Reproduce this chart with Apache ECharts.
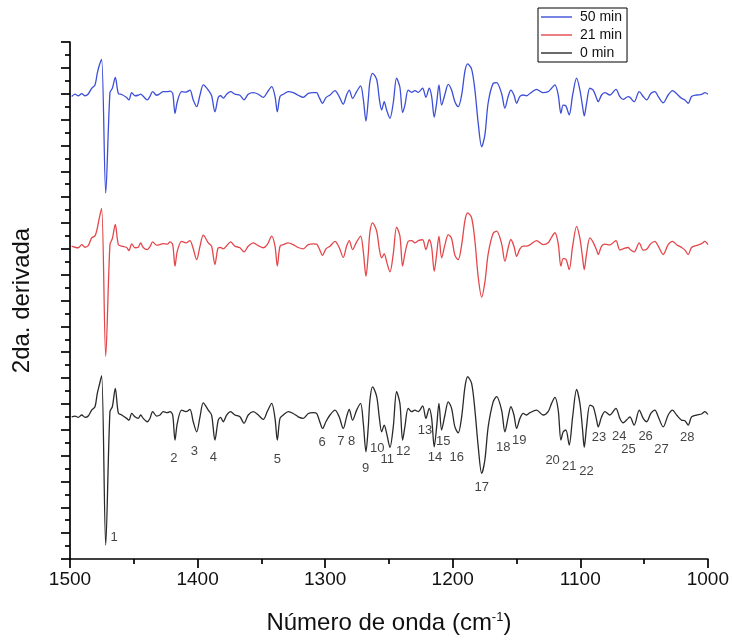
<!DOCTYPE html>
<html>
<head>
<meta charset="utf-8">
<script src="https://cdn.jsdelivr.net/npm/echarts@6/dist/echarts.min.js"></script>
<style>html,body{margin:0;padding:0;background:#fff;}#c{width:732px;height:641px;}</style>
</head>
<body>
<div id="c"></div>
<script>
// Wavenumbers (cm-1) shared by the three spectra
const wavenumbers = [1498.7,1496.1,1493.5,1490.8,1488.2,1485.7,1483.0,1480.4,1478.6,1477.0,1475.2,1472.0,1468.7,1466.8,1464.5,1462.1,1459.5,1455.6,1453.8,1451.6,1449.1,1446.5,1444.6,1442.6,1439.4,1437.3,1435.2,1432.1,1429.5,1426.9,1423.7,1421.6,1419.5,1417.7,1415.9,1412.5,1409.1,1406.0,1403.4,1400.7,1398.1,1395.5,1391.6,1389.0,1386.4,1383.8,1381.9,1379.9,1377.2,1374.1,1370.7,1366.8,1363.6,1360.3,1356.3,1352.4,1348.5,1345.4,1341.9,1339.3,1337.5,1335.4,1332.8,1328.9,1325.0,1321.1,1317.2,1313.2,1309.3,1306.7,1304.6,1302.0,1299.4,1296.2,1292.3,1289.0,1285.8,1283.2,1281.1,1278.5,1275.3,1272.2,1270.1,1268.0,1266.2,1264.9,1262.8,1259.6,1257.6,1255.7,1253.7,1251.8,1249.2,1246.6,1244.0,1241.4,1239.3,1237.5,1234.9,1232.2,1229.6,1227.0,1223.6,1221.0,1218.4,1216.5,1214.5,1212.6,1210.8,1208.7,1206.1,1203.5,1200.9,1198.3,1195.7,1193.0,1190.4,1188.3,1185.2,1182.6,1180.0,1177.3,1174.8,1172.2,1168.3,1165.6,1161.7,1159.1,1156.5,1154.4,1152.0,1149.9,1147.3,1144.7,1142.1,1139.5,1134.3,1129.1,1125.2,1122.5,1119.9,1117.3,1115.2,1113.4,1111.3,1108.7,1106.0,1102.9,1100.3,1098.2,1096.9,1095.1,1092.5,1089.9,1087.2,1086.0,1083.3,1080.7,1076.8,1072.1,1069.0,1066.4,1062.5,1061.1,1057.8,1053.8,1050.7,1048.0,1044.7,1041.5,1038.9,1035.0,1031.1,1027.7,1024.5,1020.6,1018.0,1015.4,1012.8,1008.9,1004.9,1002.3,1000.0];

// Second-derivative values (arbitrary units), 0 min
const d0min = [0.01,0.04,-0.01,0.08,-0.01,0.04,0.27,0.40,0.92,1.24,1.60,-4.95,0.21,0.40,1.11,0.15,0.08,-0.05,-0.12,0.14,0.01,-0.05,0.08,-0.05,-0.18,-0.05,0.21,0.04,0.08,0.21,0.17,0.21,0.08,-0.89,-0.24,0.27,0.21,0.30,-0.18,-0.57,0.01,0.55,0.27,0.08,-0.89,-0.12,-0.01,-0.18,0.08,0.21,0.08,0.01,-0.24,0.08,0.21,0.08,-0.09,0.21,0.53,-0.05,-0.89,-0.05,0.08,0.21,0.14,0.01,-0.05,0.14,0.17,0.14,-0.12,-0.44,-0.18,0.08,0.27,0.01,-0.44,0.01,0.30,-0.12,0.27,0.53,-0.24,-1.34,-0.38,0.66,1.17,0.79,0.01,-0.57,-0.31,-0.63,-1.17,-0.38,0.98,0.53,-0.89,-0.38,0.34,0.21,0.27,0.21,0.43,-0.05,0.34,-0.05,-1.15,-0.38,0.53,-0.50,0.08,0.59,0.34,-0.38,-0.61,0.01,1.17,1.56,1.30,0.27,-1.15,-2.18,-1.66,-0.38,0.59,0.79,0.27,-0.57,0.01,0.40,0.08,-0.44,-0.05,0.14,0.08,0.17,0.27,0.08,0.21,0.53,0.76,0.27,-0.89,-0.57,-0.50,-1.08,0.01,1.07,0.53,-0.50,-1.17,-0.38,0.46,0.40,-0.12,-0.38,0.01,0.21,0.08,0.34,-0.05,-0.22,-0.05,0.01,-0.31,0.27,-0.05,-0.18,0.14,0.27,0.01,-0.38,0.08,0.27,0.08,-0.12,-0.14,-0.31,0.01,0.08,0.12,0.21,0.10];
// 21 min
const d21min = [0.00,-0.04,-0.06,0.06,-0.04,0.02,0.32,0.40,0.70,1.10,1.46,-4.26,0.06,0.30,0.84,0.06,0.00,-0.05,-0.17,0.09,-0.06,-0.04,0.13,-0.05,-0.13,-0.02,0.17,0.04,0.06,0.10,0.08,0.17,0.06,-0.77,-0.19,0.19,0.13,0.22,-0.10,-0.52,0.00,0.43,0.13,0.00,-0.71,-0.06,-0.05,-0.10,0.02,0.17,0.00,-0.06,-0.22,0.00,0.13,0.02,-0.06,0.06,0.39,0.00,-0.77,0.00,0.06,0.13,0.06,-0.05,-0.10,0.06,0.09,0.08,-0.10,-0.35,-0.10,0.00,0.19,-0.05,-0.43,0.00,0.22,-0.13,0.17,0.39,-0.20,-1.16,-0.30,0.55,0.90,0.58,-0.08,-0.45,-0.30,-0.60,-0.99,-0.30,0.74,0.40,-0.77,-0.30,0.19,0.22,0.13,0.22,0.25,-0.13,0.25,-0.05,-0.97,-0.30,0.39,-0.45,0.05,0.45,0.30,-0.35,-0.52,0.05,1.00,1.29,1.10,0.20,-1.20,-1.97,-1.40,-0.30,0.50,0.58,0.10,-0.58,-0.05,0.26,0.00,-0.39,-0.10,0.00,0.00,0.05,0.22,0.06,0.13,0.35,0.52,0.10,-0.77,-0.48,-0.50,-0.90,0.00,0.77,0.30,-0.45,-0.90,-0.30,0.32,0.15,-0.15,-0.32,0.00,0.08,0.05,0.22,-0.15,-0.10,-0.05,-0.12,-0.22,0.13,-0.15,-0.12,0.10,0.19,0.00,-0.32,0.06,0.19,0.06,-0.05,-0.15,-0.32,-0.05,0.03,0.10,0.19,0.06];
// 50 min
const d50min = [-0.06,0.03,-0.03,0.05,-0.03,0.04,0.26,0.39,0.85,1.15,1.38,-3.80,0.09,0.26,0.68,0.06,0.02,-0.10,-0.19,0.09,-0.03,-0.01,0.03,-0.05,-0.19,-0.05,0.13,-0.01,0.05,0.13,0.13,0.15,0.06,-0.71,-0.26,0.13,0.11,0.19,-0.19,-0.45,0.00,0.39,0.19,-0.03,-0.65,-0.10,-0.03,-0.12,0.03,0.13,0.03,-0.01,-0.19,0.03,0.09,0.03,-0.09,0.10,0.32,-0.05,-0.65,-0.06,0.03,0.13,0.09,-0.01,-0.09,0.06,0.09,0.09,-0.10,-0.32,-0.10,0.00,0.17,-0.06,-0.35,0.00,0.19,-0.13,0.13,0.35,-0.16,-1.01,-0.19,0.52,0.84,0.60,-0.13,-0.58,-0.26,-0.58,-0.90,-0.30,0.65,0.30,-0.68,-0.40,0.19,0.10,0.17,0.10,0.26,-0.09,0.26,-0.06,-0.86,-0.30,0.39,-0.39,0.03,0.41,0.19,-0.26,-0.45,0.00,0.93,1.20,1.00,0.19,-1.10,-2.00,-1.55,-0.30,0.45,0.48,0.06,-0.51,-0.05,0.19,0.00,-0.32,-0.05,0.00,-0.03,0.06,0.22,0.09,0.13,0.26,0.39,0.00,-0.71,-0.39,-0.42,-0.77,0.00,0.65,0.19,-0.45,-0.81,-0.32,0.26,0.19,-0.13,-0.26,0.00,0.09,0.00,0.22,-0.06,-0.17,-0.06,-0.09,-0.26,0.13,-0.06,-0.19,0.06,0.13,-0.06,-0.30,0.00,0.17,0.05,-0.13,-0.19,-0.32,-0.06,0.00,0.02,0.09,0.03];

// Vertical offsets used to stack the spectra
const offset0 = 5.49, offset21 = 12.1, offset50 = 17.95;

// Band numbers (annotations) and their positions
const bandLabels = ['1','2','3','4','5','6','7','8','9','10','11','12','13','14','15','16','17','18','19','20','21','22','23','24','25','26','27','28'];
const bandWn = [1465.5,1418.5,1402.6,1387.7,1337.5,1302.3,1287.6,1279.2,1268.3,1259.2,1251.3,1238.8,1221.8,1213.9,1207.4,1196.9,1177.3,1160.4,1147.9,1121.7,1108.7,1095.1,1085.4,1069.5,1062.2,1048.8,1036.3,1016.1];
const bandY = [0.82,3.90,4.15,3.93,3.86,4.51,4.54,4.54,3.51,4.27,3.86,4.18,4.99,3.92,4.54,3.93,2.76,4.32,4.60,3.80,3.60,3.40,4.71,4.76,4.22,4.73,4.24,4.71];

const xTicks = [1500,1400,1300,1200,1100,1000];

function pts(vals, off){ return wavenumbers.map((w,i)=>[w, vals[i]+off]); }

const chart = echarts.init(document.getElementById('c'));
const font = 'Liberation Sans, Arial, sans-serif';
const lineCommon = {type:'line', symbol:'none', smooth:0.3, animation:false};
chart.setOption({
  animation:false,
  backgroundColor:'#fff',
  grid:{left:70,right:24,top:42,bottom:82,containLabel:false},
  legend:{
    orient:'vertical', left:538, top:8,
    data:['50 min','21 min','0 min'],
    icon:'rect', itemWidth:31, itemHeight:1.4, itemGap:4,
    borderColor:'#000', borderWidth:1, padding:[2,5,2,3],
    textStyle:{fontFamily:font,fontSize:14,color:'#111',padding:[0,0,0,3]}
  },
  xAxis:{
    type:'value', inverse:true, min:1000, max:1500, interval:100,
    name:'Número de onda (cm{s|-1})', nameLocation:'middle', nameGap:52,
    nameTextStyle:{fontFamily:font,fontSize:24,color:'#111',rich:{s:{fontFamily:font,fontSize:13,color:'#111',padding:[0,0,12,0]}}},
    axisLine:{show:true,onZero:false,lineStyle:{color:'#000',width:1.7}},
    axisTick:{show:true,inside:false,length:9,lineStyle:{color:'#000',width:1.7}},
    minorTick:{show:true,splitNumber:2,length:5,lineStyle:{color:'#000',width:1.7}},
    axisLabel:{fontFamily:font,fontSize:19,color:'#111',margin:11,
      formatter:v=>xTicks.includes(v)?String(v):''},
    splitLine:{show:false}
  },
  yAxis:{
    type:'value', min:0, max:20, interval:1,
    name:'2da. derivada', nameLocation:'middle', nameGap:36, nameRotate:90,
    nameTextStyle:{fontFamily:font,fontSize:24,color:'#111'},
    axisLine:{show:true,onZero:false,lineStyle:{color:'#000',width:1.7}},
    axisTick:{show:true,inside:false,length:9,lineStyle:{color:'#000',width:1.7}},
    minorTick:{show:true,splitNumber:2,length:5,lineStyle:{color:'#000',width:1.7}},
    axisLabel:{show:false},
    splitLine:{show:false}
  },
  series:[
    Object.assign({name:'0 min', data:pts(d0min,offset0), lineStyle:{color:'#2a2a2a',width:1.3}, itemStyle:{color:'#2a2a2a'}}, lineCommon),
    Object.assign({name:'21 min', data:pts(d21min,offset21), lineStyle:{color:'#e4474b',width:1.3}, itemStyle:{color:'#e4474b'}}, lineCommon),
    Object.assign({name:'50 min', data:pts(d50min,offset50), lineStyle:{color:'#3d4fd8',width:1.3}, itemStyle:{color:'#3d4fd8'}}, lineCommon),
    {type:'scatter', symbolSize:0, silent:true, animation:false,
     data:bandLabels.map((t,i)=>({value:[bandWn[i],bandY[i]], name:t})),
     label:{show:true, position:'inside', formatter:p=>p.name, fontFamily:font, fontSize:13, color:'#111'}}
  ]
});
</script>
</body>
</html>
